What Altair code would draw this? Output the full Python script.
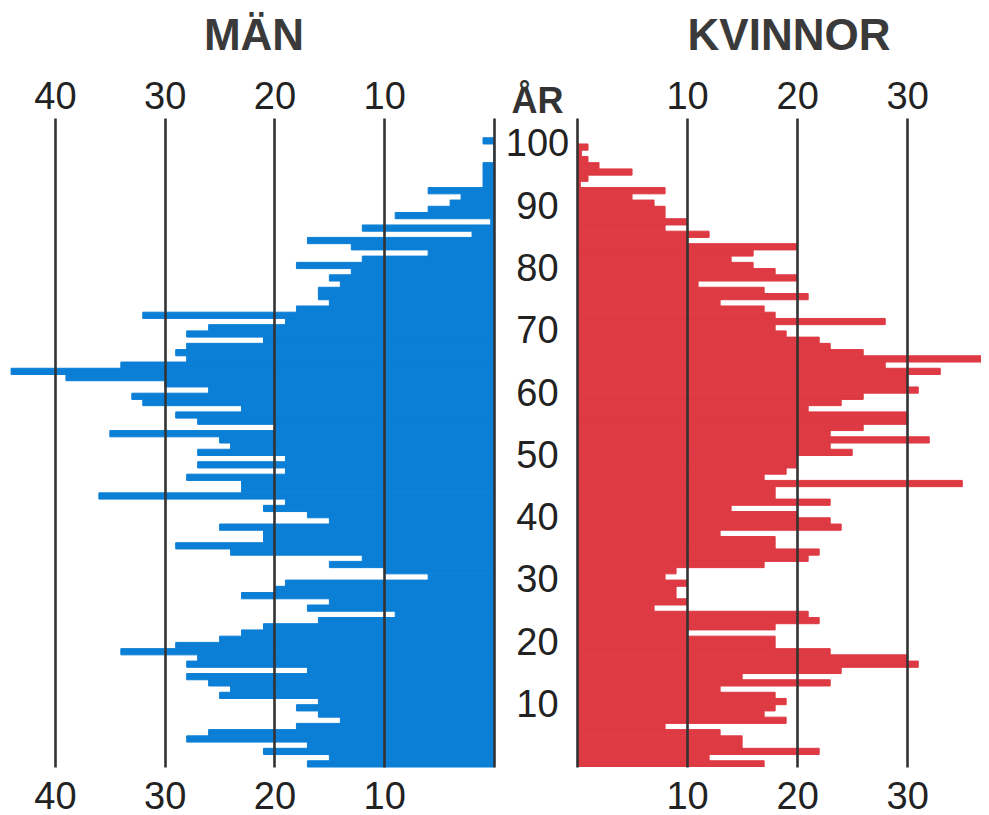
import altair as alt
import pandas as pd

# ---- data ----
ages = list(range(0, 101))

men = [
    17, 15, 21, 17, 28, 26, 18, 14, 16, 18,      # 0-9
    16, 25, 24, 26, 28, 17, 28, 27, 34, 29,      # 10-19
    25, 23, 21, 16, 9, 17, 15, 23, 20, 19,       # 20-29
    6, 10, 15, 12, 24, 29, 21, 21, 25, 15,       # 30-39
    17, 21, 19, 36, 23, 23, 28, 19, 27, 19,      # 40-49
    27, 24, 25, 35, 20, 27, 29, 23, 32, 33,      # 50-59
    26, 30, 39, 44, 34, 28, 29, 28, 21, 28,      # 60-69
    26, 19, 32, 18, 15, 16, 16, 14, 15, 13,      # 70-79
    18, 12, 6, 13, 17, 2, 12, 0.3, 9, 6,         # 80-89
    4, 3, 6, 1, 1, 1, 1, 0, 0, 0,                # 90-99
    1,                                           # 100
]

women = [
    17, 12, 22, 15, 15, 13, 8, 19, 17, 18,       # 0-9
    19, 18, 13, 23, 15, 24, 31, 30, 23, 18,      # 10-19
    18, 10, 18, 22, 21, 7, 10, 9, 9, 10,         # 20-29
    8, 9, 17, 21, 22, 18, 18, 13, 24, 23,        # 30-39
    20, 14, 23, 18, 18, 35, 17, 19, 20, 20,      # 40-49
    25, 23, 32, 23, 26, 30, 30, 21, 24, 26,      # 50-59
    31, 30, 30, 33, 28, 37.5, 26, 23, 22, 19,    # 60-69
    18, 28, 18, 17, 13, 21, 17, 11, 20, 18,      # 70-79
    16, 14, 16, 20, 10, 12, 8, 10, 8, 8,         # 80-89
    7, 5, 8, 0.3, 1, 5, 2, 1, 0.4, 1,            # 90-99
    0,                                           # 100
]

age_ticks = [10, 20, 30, 40, 50, 60, 70, 80, 90, 100]
men_ticks = [0, 10, 20, 30, 40]
women_ticks = [0, 10, 20, 30]

df = pd.DataFrame({"age": ages, "men": men, "women": women})

BLUE = "#0b7fd6"
RED = "#de3a44"
GRID = "#333333"
TXT = "#222222"
FONT = "Liberation Sans"
LBL = 38

yscale = alt.Scale(domain=[-0.5, 103.67], nice=False, zero=False)
xl = alt.Scale(domain=[0, 44.28], reverse=True, nice=False, zero=True)
xr = alt.Scale(domain=[0, 36.7], nice=False, zero=True)

hide0 = "datum.value == 0 ? '' : datum.label"


def top_axis(vals):
    return alt.Axis(orient="top", values=vals, labelExpr=hide0, grid=True,
                    gridColor=GRID, gridWidth=2.6, gridOpacity=1, zindex=1,
                    ticks=False, tickSize=0, domain=False, labelFontSize=LBL,
                    labelFont=FONT, labelColor=TXT, labelPadding=2, title=None)


def bottom_axis(vals):
    return alt.Axis(orient="bottom", values=vals, labelExpr=hide0, grid=False,
                    ticks=False, tickSize=0, domain=False, labelFontSize=LBL,
                    labelFont=FONT, labelColor=TXT, labelPadding=11, title=None)


age_axis = alt.Axis(orient="left", values=age_ticks, labelFontSize=LBL, labelFont=FONT,
                    labelColor=TXT, labelAlign="center", labelBaseline="middle",
                    labelPadding=40, labelOffset=4, ticks=False, tickSize=0,
                    domain=False, grid=False,
                    title="ÅR", titleAngle=0, titleFontSize=36, titleFont=FONT,
                    titleFontWeight="bold", titleColor="#333333", titleX=-40, titleY=-6,
                    titleAlign="center", titleBaseline="alphabetic")

base = alt.Chart(df).transform_calculate(lo="datum.age - 0.5", hi="datum.age + 0.5")

# ---- left panel: men ----
bars_l = base.mark_rect(color=BLUE, stroke=BLUE, strokeWidth=1).encode(
    x=alt.X("men:Q", scale=xl, axis=top_axis(men_ticks)),
    x2=alt.datum(0),
    y=alt.Y("lo:Q", scale=yscale, axis=None),
    y2="hi:Q",
)
ghost_l = base.mark_rect(opacity=0).encode(
    x=alt.X("men:Q", scale=xl, axis=bottom_axis(men_ticks)),
    x2=alt.datum(0),
    y=alt.Y("lo:Q", scale=yscale, axis=None),
    y2="hi:Q",
)
left = alt.layer(bars_l, ghost_l).resolve_axis(x="independent").properties(
    width=486, height=649,
    title=alt.Title("MÄN", font=FONT, fontSize=44, fontWeight="bold",
                    color="#3a3a3a", anchor="middle", offset=19, dx=3),
)

# ---- right panel: women ----
bars_r = base.mark_rect(color=RED, stroke=RED, strokeWidth=1, clip=True).encode(
    x=alt.X("women:Q", scale=xr, axis=top_axis(women_ticks)),
    x2=alt.datum(0),
    y=alt.Y("lo:Q", scale=yscale, axis=age_axis),
    y2="hi:Q",
)
ghost_r = base.mark_rect(opacity=0, clip=True).encode(
    x=alt.X("women:Q", scale=xr, axis=bottom_axis(women_ticks)),
    x2=alt.datum(0),
    y=alt.Y("lo:Q", scale=yscale, axis=age_axis),
    y2="hi:Q",
)
right = alt.layer(bars_r, ghost_r).resolve_axis(x="independent").properties(
    width=404, height=649,
    title=alt.Title("KVINNOR", font=FONT, fontSize=44, fontWeight="bold",
                    color="#3a3a3a", anchor="middle", offset=19, dx=10),
)

chart = alt.hconcat(left, right, spacing=83, bounds="flush").properties(
    padding={"left": 0, "top": 7, "right": 0, "bottom": 0},
    background="white",
).configure_view(stroke=None)

chart.save("out.html", embed_options={"renderer": "svg", "actions": False})
